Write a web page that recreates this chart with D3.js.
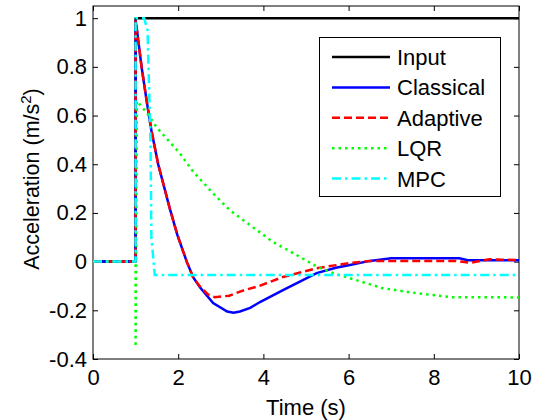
<!DOCTYPE html>
<html>
<head>
<meta charset="utf-8">
<script src="https://cdn.jsdelivr.net/npm/d3@7"></script>
<style>
body { margin: 0; background: #fff; }
svg { font-family: "Liberation Sans", Arial, sans-serif; }
.axis text { font-size: 22px; fill: #000; }
.axis path, .axis line { stroke: #000; }
</style>
</head>
<body>
<svg width="534" height="420"></svg>
<script>
var width = 534;
var height = 420;

// tick values
var xTicks = [0, 2, 4, 6, 8, 10];
var yTicks = [-0.4, -0.2, 0, 0.2, 0.4, 0.6, 0.8, 1];

// series (time in s, acceleration in m/s^2)
var inputT = [0, 1, 1, 10];
var inputA = [0, 0, 1, 1];

var classicalT = [0, 1, 1, 1.04, 1.14, 1.26, 1.37, 1.53, 1.8, 1.98, 2.2, 2.35, 2.51, 2.82, 3.15, 3.3, 3.45, 3.69, 3.92, 4.46, 5.25, 5.7, 6.03, 6.5, 7, 8.6, 8.8, 10];
var classicalA = [0, 0, 0.99, 0.94, 0.8, 0.66, 0.54, 0.4, 0.22, 0.11, 0.0, -0.064, -0.105, -0.17, -0.205, -0.21, -0.205, -0.19, -0.166, -0.117, -0.047, -0.025, -0.014, 0.003, 0.014, 0.014, 0.006, 0.006];

var adaptiveT = [0, 1, 1, 1.04, 1.14, 1.26, 1.37, 1.53, 1.8, 1.98, 2.2, 2.35, 2.5, 2.7, 2.86, 3.2, 3.5, 3.9, 4.46, 5.25, 6.03, 6.5, 8.5, 8.85, 9.3, 10];
var adaptiveA = [0, 0, 0.99, 0.94, 0.8, 0.66, 0.54, 0.4, 0.22, 0.11, 0.0, -0.064, -0.1, -0.135, -0.146, -0.14, -0.12, -0.1, -0.063, -0.027, -0.006, 0.003, 0.003, -0.005, 0.01, 0.006];

var lqrT = [0, 1, 1, 1.03, 1.27, 1.5, 2.04, 2.35, 2.82, 3.22, 3.84, 4.23, 4.7, 5.25, 5.64, 6.03, 6.8, 7.6, 8.4, 10];
var lqrA = [0, 0, -0.35, 0.66, 0.61, 0.55, 0.445, 0.37, 0.28, 0.21, 0.13, 0.08, 0.035, -0.02, -0.047, -0.068, -0.109, -0.13, -0.146, -0.147];

var mpcT = [0, 1, 1, 1.2, 1.28, 1.35, 1.37, 1.45, 10];
var mpcA = [0, 0, 1, 1, 0.95, 0.5, 0.1, -0.055, -0.055];

var names = ["Input", "Classical", "Adaptive", "LQR", "MPC"];
var colors = ["#000000", "#0000ff", "#ff0000", "#00ff00", "#00ffff"];
var dashes = [null, null, "8,4", "2.5,4", "9,4,2.5,4"];

var series = [
    { t: inputT, a: inputA },
    { t: classicalT, a: classicalA },
    { t: adaptiveT, a: adaptiveA },
    { t: lqrT, a: lqrA },
    { t: mpcT, a: mpcA }
];

var plotLeft = 93, plotRight = 519, plotTop = 6, plotBottom = 359;

var x = d3.scaleLinear().domain([0, 10]).range([plotLeft, plotRight]);
var y = d3.scaleLinear().domain([-0.4, 1.05]).range([plotBottom, plotTop]);

var svg = d3.select("svg");

svg.append("rect")
    .attr("x", plotLeft).attr("y", plotTop)
    .attr("width", plotRight - plotLeft).attr("height", plotBottom - plotTop)
    .attr("fill", "#fff");

var fmt = function(d) { return String(+d.toFixed(1)); };

// axes with inward ticks, box on all four sides
svg.append("g").attr("class", "axis")
    .attr("transform", "translate(0," + plotBottom + ")")
    .call(d3.axisBottom(x).tickValues(xTicks).tickFormat(fmt).tickSizeInner(-5).tickSizeOuter(0).tickPadding(10));

svg.append("g").attr("class", "axis")
    .attr("transform", "translate(" + plotLeft + ",0)")
    .call(d3.axisLeft(y).tickValues(yTicks).tickFormat(fmt).tickSizeInner(-5).tickSizeOuter(0).tickPadding(6));

svg.append("g").attr("class", "axis")
    .attr("transform", "translate(0," + plotTop + ")")
    .call(d3.axisTop(x).tickValues(xTicks).tickFormat("").tickSizeInner(-5).tickSizeOuter(0));

svg.append("g").attr("class", "axis")
    .attr("transform", "translate(" + plotRight + ",0)")
    .call(d3.axisRight(y).tickValues(yTicks).tickFormat("").tickSizeInner(-5).tickSizeOuter(0));

svg.selectAll(".axis path.domain").remove();
svg.append("rect")
    .attr("x", plotLeft).attr("y", plotTop)
    .attr("width", plotRight - plotLeft).attr("height", plotBottom - plotTop)
    .attr("fill", "none").attr("stroke", "#000").attr("stroke-width", 1);

// lines
var line = d3.line()
    .x(function(d) { return x(d[0]); })
    .y(function(d) { return y(d[1]); });

series.forEach(function(s, i) {
    var pts = s.t.map(function(t, j) { return [t, s.a[j]]; });
    svg.append("path")
        .datum(pts)
        .attr("d", line)
        .attr("fill", "none")
        .attr("stroke", colors[i])
        .attr("stroke-width", 2.5)
        .attr("stroke-dasharray", dashes[i]);
});

// axis labels
svg.append("text")
    .attr("x", (plotLeft + plotRight) / 2)
    .attr("y", 415)
    .attr("text-anchor", "middle")
    .attr("font-size", 22)
    .text("Time (s)");

var ylab = svg.append("text")
    .attr("transform", "translate(38.5,179) rotate(-90)")
    .attr("text-anchor", "middle")
    .attr("font-size", 21.5);
ylab.append("tspan").text("Acceleration (m/s");
ylab.append("tspan").attr("font-size", 15).attr("baseline-shift", "super").text("2");
ylab.append("tspan").text(")");

// legend
var legend = svg.append("g");
legend.append("rect")
    .attr("x", 319.5).attr("y", 37.5)
    .attr("width", 181).attr("height", 159)
    .attr("fill", "#fff").attr("stroke", "#000").attr("stroke-width", 1);

names.forEach(function(n, i) {
    var ly = 57 + i * 30.4;
    legend.append("line")
        .attr("x1", 332).attr("x2", 390)
        .attr("y1", ly).attr("y2", ly)
        .attr("stroke", colors[i])
        .attr("stroke-width", 2.5)
        .attr("stroke-dasharray", dashes[i]);
    legend.append("text")
        .attr("x", 397).attr("y", ly + 8)
        .attr("font-size", 22)
        .text(n);
});
</script>
</body>
</html>
